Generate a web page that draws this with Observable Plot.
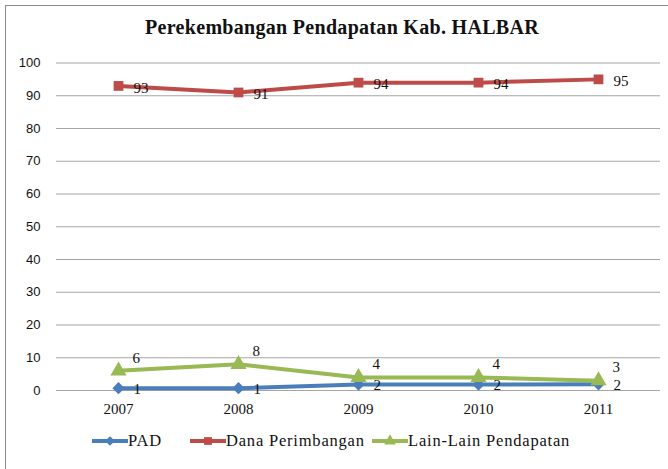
<!DOCTYPE html>
<html>
<head>
<meta charset="utf-8">
<script src="https://cdn.jsdelivr.net/npm/d3@7"></script>
<script src="https://cdn.jsdelivr.net/npm/@observablehq/plot@0.6"></script>
<style>
  html, body { margin: 0; padding: 0; background: #fff; }
  #wrap { position: relative; width: 668px; height: 469px; overflow: hidden; }
  #frame { position: absolute; left: 5px; top: 5px; width: 720px; height: 520px; border: 1.5px solid #8a8a8a; box-sizing: border-box; }
  #title { position: absolute; left: 0; width: 684px; top: 16px; text-align: center;
           font-family: "Liberation Serif", serif; font-weight: bold; font-size: 20px; letter-spacing: 0.3px; color: #111; }
  #chart { position: absolute; left: 0; top: 0; }
  #legend { position: absolute; top: 431px; left: 0; font-family: "Liberation Serif", serif; font-size: 16.5px; letter-spacing: 0.8px; color: #111; }
  .item { position: absolute; white-space: nowrap; display: flex; align-items: center; }
  .item svg { display: block; }
</style>
</head>
<body>
<div id="wrap">
  <div id="frame"></div>
  <div id="chart"></div>
  <div id="title">Perekembangan Pendapatan Kab. HALBAR</div>
  <div id="legend"></div>
</div>
<script>
const years = ["2007", "2008", "2009", "2010", "2011"];
const pad = [0.7, 0.7, 1.8, 1.8, 1.9];
const dana = [93, 91, 94, 94, 95];
const lain = [6, 8, 4, 4, 3];
const yTicks = [0, 10, 20, 30, 40, 50, 60, 70, 80, 90, 100];
const seriesNames = ["PAD", "Dana Perimbangan", "Lain-Lain Pendapatan"];
const colors = ["#4a7ebb", "#be4b48", "#98b954"];
const symbols = ["diamond2", "square", "triangle"];

const rows = [];
[pad, dana, lain].forEach((vals, s) => {
  vals.forEach((v, i) => rows.push({year: years[i], value: v, series: seriesNames[s]}));
});
const bySeries = name => rows.filter(r => r.series === name);
const fmt = d3.format(".0f");

const labelOpts = [
  {dx: 15, dy: 1},
  {dx: 15, dy: 2},
  {dx: 14, dy: -13}
];

const marks = [
  Plot.ruleY(yTicks, {stroke: "#a6a6a6", strokeWidth: 1.2}),
  Plot.axisY(yTicks, {tickSize: 0, tickPadding: 16, fontFamily: "Liberation Sans, sans-serif", fontSize: 13, fill: "#111"}),
  Plot.axisX({tickSize: 0, tickPadding: 13, fontFamily: "Liberation Serif, serif", fontSize: 15, fill: "#111"})
];
seriesNames.forEach((name, s) => {
  const data = bySeries(name);
  marks.push(Plot.line(data, {x: "year", y: "value", stroke: colors[s], strokeWidth: 4}));
  marks.push(Plot.dot(data, {x: "year", y: "value", symbol: symbols[s], fill: colors[s], r: s === 2 ? 6 : 5.5, stroke: "none"}));
});
seriesNames.forEach((name, s) => {
  const data = bySeries(name);
  marks.push(Plot.text(data, {x: "year", y: "value", text: d => fmt(d.value), textAnchor: "start",
    dx: labelOpts[s].dx, dy: labelOpts[s].dy, fontFamily: "Liberation Serif, serif", fontSize: 15, fill: "#111"}));
});

const chart = Plot.plot({
  width: 668,
  height: 469,
  marginLeft: 56,
  marginRight: 8,
  marginTop: 62.5,
  marginBottom: 79,
  style: {background: "transparent"},
  x: {type: "point", domain: years, padding: 0.5, label: null},
  y: {domain: [0, 100], label: null},
  marks
});
document.getElementById("chart").appendChild(chart);

// legend
const legend = document.getElementById("legend");
const legendX = [92, 190, 372];
seriesNames.forEach((name, s) => {
  const item = document.createElement("div");
  item.className = "item";
  item.style.left = legendX[s] + "px";
  const sw = d3.create("svg").attr("width", 36).attr("height", 18);
  sw.append("line").attr("x1", 0).attr("x2", 36).attr("y1", 9).attr("y2", 9)
    .attr("stroke", colors[s]).attr("stroke-width", 4);
  const sym = d3.symbol().type(s === 0 ? d3.symbolDiamond2 : s === 1 ? d3.symbolSquare : d3.symbolTriangle).size(60);
  sw.append("path").attr("d", sym()).attr("transform", "translate(18,9)").attr("fill", colors[s]);
  item.appendChild(sw.node());
  const t = document.createElement("span");
  t.textContent = name;
  item.appendChild(t);
  legend.appendChild(item);
});
</script>
</body>
</html>
